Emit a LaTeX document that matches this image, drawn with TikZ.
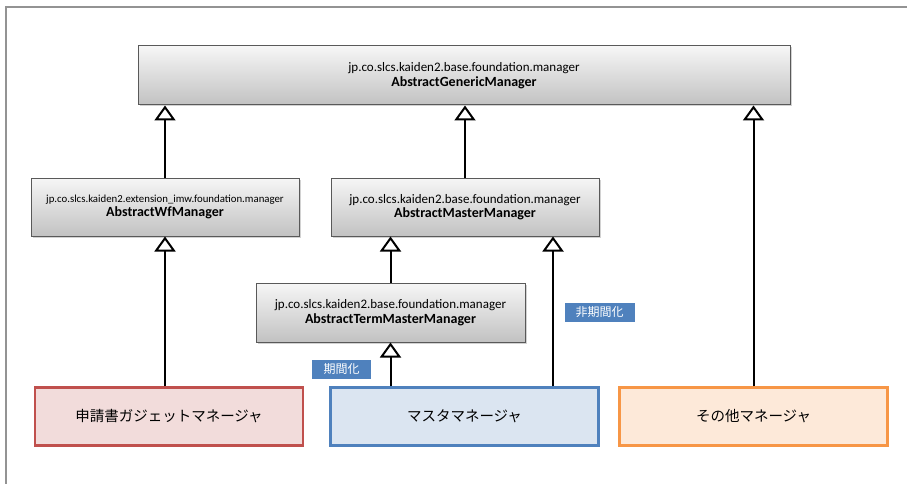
\documentclass[tikz,border=0pt]{standalone}
\usepackage{fontspec}
\setmainfont{Carlito}
\newfontfamily\jpfont{Noto Sans CJK JP}
\usepackage{tikz}
\usetikzlibrary{arrows.meta}
\usetikzlibrary{shadows}
\definecolor{clsline}{HTML}{595959}
\definecolor{redline}{HTML}{C0504D}
\definecolor{redfill}{HTML}{F2DCDB}
\definecolor{blueline}{HTML}{4F81BD}
\definecolor{bluefill}{HTML}{DBE5F1}
\definecolor{orgline}{HTML}{F79646}
\definecolor{orgfill}{HTML}{FDE9D9}
\definecolor{tagblue}{HTML}{4F81BD}
\newcommand{\pkg}[1]{{\fontsize{13}{16}\selectfont #1}}
\newcommand{\cls}[1]{{\fontsize{14}{16}\selectfont\bfseries #1}}
\tikzset{
  clsbox/.style={draw=clsline, line width=1pt, top color=gray!7, bottom color=gray!48,
    drop shadow={shadow xshift=1.5pt, shadow yshift=-1.5pt, opacity=0.35},
    align=center, inner sep=0pt, minimum width=268pt, minimum height=58pt},
  mgrbox/.style={line width=2.2pt, inner sep=0pt, minimum width=268pt, minimum height=58pt,
    font=\jpfont\fontsize{14.5}{17}\selectfont},
  tagbox/.style={fill=tagblue, draw=white, line width=3pt, text=white, inner sep=0pt,
    minimum height=22pt, font=\jpfont\fontsize{12}{14}\selectfont,
    drop shadow={shadow xshift=1pt, shadow yshift=-1pt, opacity=0.3}},
  inherit/.style={-{Triangle[open,width=21pt,length=15pt]}, line width=2pt}
}
\begin{document}
\begin{tikzpicture}[x=1pt,y=-1pt]
\useasboundingbox[fill=white] (0,0) rectangle (907,484);
\draw[line width=2pt, color=gray!85] (907,7) -- (6,7) -- (6,484);
% abstract classes
\node[clsbox, minimum width=652pt, minimum height=59pt] (gen) at (464,75.5)
  {\pkg{jp.co.slcs.kaiden2.base.foundation.manager}\\[1.5pt] \cls{AbstractGenericManager}};
\node[clsbox] (wf) at (165,207)
  {{\fontsize{10.8}{16}\selectfont jp.co.slcs.kaiden2.extension\_imw.foundation.manager}\\[1.5pt] \cls{AbstractWfManager}};
\node[clsbox] (mst) at (465,207)
  {\pkg{jp.co.slcs.kaiden2.base.foundation.manager}\\[1.5pt] \cls{AbstractMasterManager}};
\node[clsbox, minimum width=269pt, minimum height=59pt] (term) at (390.5,312.5)
  {\pkg{jp.co.slcs.kaiden2.base.foundation.manager}\\[1.5pt] \cls{AbstractTermMasterManager}};
% managers
\node[mgrbox, draw=redline, fill=redfill] (app) at (169,416.5) {申請書ガジェットマネージャ};
\node[mgrbox, draw=blueline, fill=bluefill] (mas) at (464.5,416.5) {マスタマネージャ};
\node[mgrbox, draw=orgline, fill=orgfill] (oth) at (753.5,416.5) {その他マネージャ};
% inheritance
\draw[inherit] (wf.north) -- (gen.south -| wf.north);
\draw[inherit] (mst.north) -- (gen.south -| mst.north);
\draw[inherit] (oth.north) -- (gen.south -| oth.north);
\draw[inherit] (app.north -| wf.south) -- (wf.south);
\draw[inherit] (term.north) -- (mst.south -| term.north);
\draw[inherit] (mas.north -| term.south) -- (term.south);
\coordinate (mas2) at ([xshift=88.5pt]mas.north);
\draw[inherit] (mas2) -- (mst.south -| mas2);
% tags
\node[tagbox, minimum width=62pt] (tterm) at (341.5,369) {期間化};
\node[tagbox, minimum width=73pt] (tnon) at (599.5,312) {非期間化};
\end{tikzpicture}
\end{document}
